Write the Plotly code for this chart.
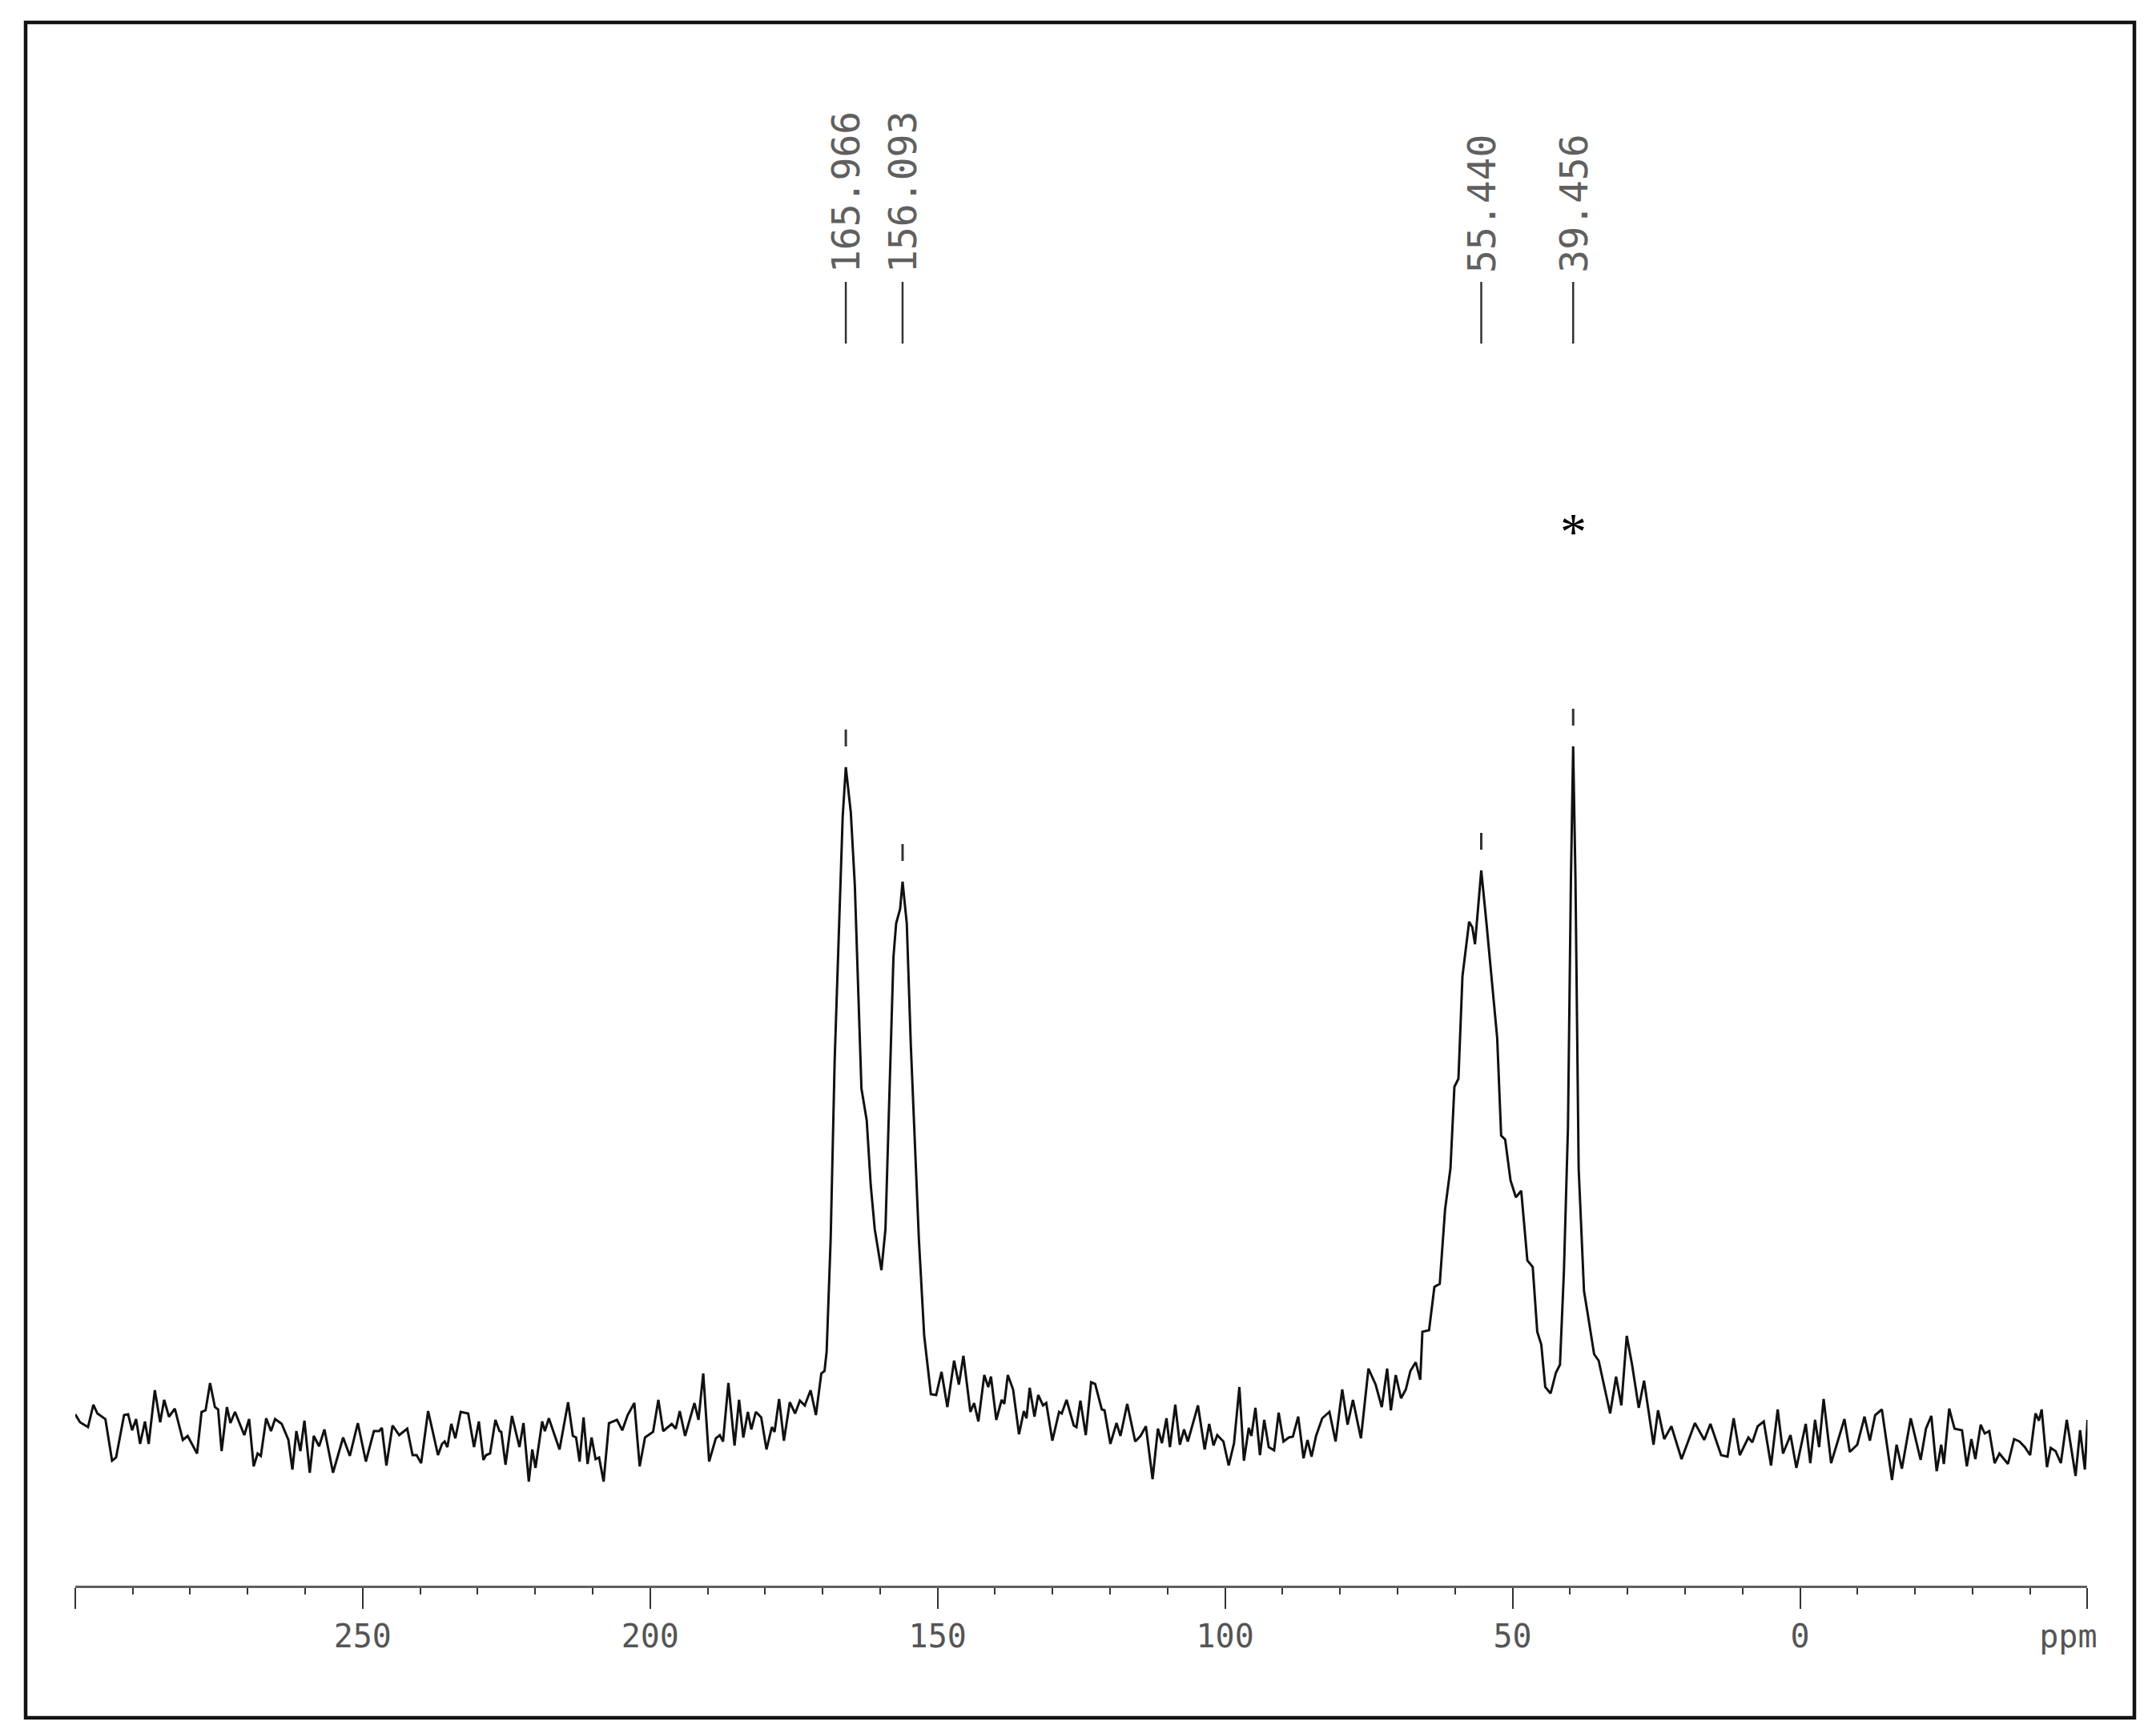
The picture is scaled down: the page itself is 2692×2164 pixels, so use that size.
import plotly.graph_objects as go

# ---------------- data ----------------
shift_ppm = [
    300.0, 299.16, 297.77, 296.84, 296.14, 294.75, 293.59, 292.89, 291.5, 290.8,
    290.1, 289.41, 288.71, 287.87, 287.22, 286.15, 285.22, 284.53, 283.69, 282.67,
    281.28, 280.44, 278.81, 278.02, 277.32, 276.54, 275.7, 275.14, 274.54, 273.61,
    273.0, 272.21, 270.59, 269.75, 268.96, 268.27, 267.71, 266.78, 265.94, 265.24,
    264.08, 262.92, 262.22, 261.53, 260.83, 260.13, 259.2, 258.5, 257.58, 256.65,
    255.16, 253.4, 252.23, 250.84, 249.44, 248.05, 247.13, 246.66, 245.87, 244.8,
    243.64, 242.25, 241.32,
    240.62, 239.83, 238.62, 237.83, 236.9, 236.2, 235.74, 235.27, 234.58, 233.88,
    232.95, 231.65, 230.63, 229.79, 229.0, 228.54, 227.84, 226.91, 226.21, 225.89,
    225.15, 224.03, 222.73, 222.03, 221.1, 220.5, 219.94, 218.78, 218.31, 217.62,
    215.76, 214.27, 213.44, 212.88, 212.27, 211.58, 210.88, 210.18, 209.49, 208.88,
    208.09, 207.16, 205.77, 204.84, 203.91, 202.75, 201.82, 200.89, 199.49, 198.57,
    197.73, 196.24, 195.54, 194.85, 193.92, 192.29, 191.59, 190.76, 189.74, 188.58,
    187.88, 187.32, 186.39, 185.32, 184.53, 183.79, 183.0,
    182.4, 181.61, 180.68, 179.76, 178.83, 178.36, 177.57, 176.73, 175.71, 174.78,
    173.95, 173.11, 172.09, 171.16, 170.23, 169.67, 169.3,
    168.6, 167.9, 167.2, 166.51, 165.966, 165.1, 164.4, 163.72, 163.25, 162.33,
    161.63, 160.93, 159.77, 159.07, 158.38, 157.68, 157.21, 156.52, 156.093, 155.36,
    154.66, 153.96, 153.26, 152.33, 151.17,
    150.25, 149.32, 148.3, 147.13, 146.3, 145.51, 144.3, 143.65, 142.91, 141.88,
    141.19, 140.72, 139.79, 138.86, 138.4, 137.79, 136.87, 135.84, 135.0, 134.54,
    133.98, 133.15, 132.5, 131.66, 131.1, 130.04, 128.87, 128.41, 127.57, 126.32,
    125.85, 125.16, 124.23, 123.3, 122.6, 121.44, 120.97, 119.95, 118.88, 118.19,
    117.02, 115.63, 114.7, 113.77, 112.61, 111.68, 110.98, 110.19, 109.59, 108.66,
    107.87, 107.13, 106.48, 104.71, 103.55, 102.76, 102.01, 101.36, 100.29, 99.37,
    98.44, 97.51, 96.72, 95.88, 95.42, 94.72, 93.93, 93.19, 92.4, 91.47,
    90.68, 89.84, 88.91, 88.21, 87.28, 86.35, 85.66, 84.96, 84.17, 83.1,
    81.85, 80.78, 79.62, 78.69, 77.76, 76.37, 75.06, 73.81, 72.74, 71.81,
    71.16, 70.32, 69.39, 68.56, 67.77, 66.84, 66.05, 65.68, 64.52, 63.59,
    62.66, 61.73, 60.8, 60.11, 59.41, 58.71, 57.55, 56.99, 56.53, 55.44,
    54.53, 53.6, 52.67, 51.98, 51.28, 50.35, 49.42, 48.49, 47.42, 46.49,
    45.7, 45.0, 44.31, 43.38, 42.45, 41.75, 41.06, 40.36, 39.85, 39.456,
    39.05, 38.5, 37.57, 36.87, 35.81, 35.02, 34.23, 33.02, 31.99, 31.07,
    30.14, 29.21, 28.05, 27.12, 25.48, 24.69, 23.62, 22.37, 20.6, 18.28,
    16.65, 15.58, 13.72, 12.61, 11.54, 10.47, 8.98, 8.29, 7.36,
    6.3, 5.04, 3.88, 2.95, 1.65, 0.63, -1.0, -1.79, -2.62, -3.32,
    -4.11, -5.41, -6.8, -7.73, -8.66, -9.96, -11.22, -12.15, -13.08, -14.24,
    -14.94, -16.0, -16.8, -17.72, -19.26, -20.98, -21.91, -22.84, -23.77, -24.56,
    -25.02, -25.95, -26.88, -28.18, -29.02, -29.81, -30.5, -31.43, -32.13, -32.92,
    -33.85, -34.69, -36.17, -37.24, -38.17, -39.1, -40.03, -40.96, -41.56, -42.03,
    -42.96, -43.61, -44.45, -45.37, -46.4, -47.93, -48.72, -49.55, -50.0,
]

intensity = [
    34, 24, 18, 46, 35, 28, -24, -20, 33, 34,
    14, 28, -3, 25, -3, 64, 24, 52, 31, 41,
    2, 7, -15, 37, 39, 73, 43, 40, -12, 43,
    23, 37, 8, 28, -31, -15, -18, 29, 13, 28,
    22, 2, -35, 13, -12, 26, -39, 7, -6, 15,
    -39, 5, -18, 23, -25, 13, 13, 17, -30, 20,
    8, 16, -17,
    -17, -27, 38, 13, -17, -3, 0, -7, 22, 4,
    37, 35, -7, 25, -23, -17, -15, 27, 13, 12,
    -29, 32, -7, 23, -50, -10, -33, 25, 13, 29,
    -10, 49, 7, 5, -25, 30, -28, 5, -22, -20,
    -50, 23, 27, 14, 33, 48, -31, 5, 12, 52,
    13, 22, 16, 38, 7, 48, 27, 85, -25, 4,
    8, 0, 73, -5, 52, 5, 37,
    15, 37, 30, -10, 18, 12, 53, 1, 49, 35,
    51, 45, 64, 33, 85, 88, 112,
    253, 477, 635, 780, 842, 786, 695, 556, 441, 401,
    320, 265, 214, 265, 435, 605, 647, 665, 699, 647,
    495, 374, 253, 132, 59,
    58, 87, 43, 101, 71, 107, 37, 48, 25, 83,
    68, 81, 27, 52, 47, 83, 65, 9, 38, 29,
    67, 31, 58, 45, 48, 1, 37, 35, 52, 20,
    18, 51, 8, 74, 72, 40, 39, -3, 23, 7,
    47, 0, 7, 19, -47, 16, -2, 29, -7, 46,
    -4, 15, 0, 45, -10, 22, -5, 8, 0, -30,
    -2, 68, -24, 17, 7, 42, -17, 27, -7, -11,
    36, 0, 5, 6, 31, -21, 2, -19, 7, 29,
    37, 0, 65, 21, 52, 4, 91, 71, 43, 91,
    39, 83, 54, 65, 88, 99, 77, 137, 139, 193,
    197, 290, 341, 443, 453, 581, 649, 642, 621, 713,
    647, 576, 504, 382, 377, 326, 305, 313, 226, 218,
    137, 121, 68, 60, 86, 96, 213, 392, 700, 868,
    700, 341, 188, 157, 109, 101, 76, 35, 81, 45,
    132, 96, 42, 76, -4, 39, 3, 19, -22, 23,
    2, 22, -17, -19, 29, -17, 5, -1, 19,
    25, -30, 40, -15, 8, -33, 22, -27, 27, -7,
    53, -27, 7, 28, -13, -4, 31, 1, 33, 40,
    5, -48, -4, -34, 29, -23, 16, 32, -37, -4,
    -28, 41, 16, 14, -31, 3, -22, 21, 10, 13,
    -27, -15, -28, 3, 0, -7, -17, 35, 26, 40,
    -32, -8, -12, -27, 27, -43, 14, -35, 27,
]

peak_ppm = [165.966, 156.093, 55.440, 39.456]
peak_labels = ["165.966", "156.093", "55.440", "39.456"]
solvent_ppm = 39.456

major_ticks = [300, 250, 200, 150, 100, 50, 0, -50]
major_text = ["", "250", "200", "150", "100", "50", "0", "ppm\u00a0\u00a0"]
minor_ticks = [v for v in range(300, -51, -10) if v % 50 != 0]

# ---------------- styling constants ----------------
LABEL_BASE = 1457      # bottom of the rotated peak labels (data units)
LABEL_LINE = (1371, 1448)
STAR_Y = 1137

fig = go.Figure()
fig.add_trace(go.Scatter(
    x=shift_ppm, y=intensity, mode="lines",
    line=dict(color="#111111", width=3),
    hoverinfo="skip", showlegend=False,
))

shapes = []
annotations = []
for p, lab in zip(peak_ppm, peak_labels):
    top = max(v for x, v in zip(shift_ppm, intensity) if abs(x - p) < 0.8)
    shapes.append(dict(type="line", xref="x", yref="y", x0=p, x1=p,
                       y0=top + 26, y1=top + 47,
                       line=dict(color="#333333", width=3)))
    shapes.append(dict(type="line", xref="x", yref="y", x0=p, x1=p,
                       y0=LABEL_LINE[0], y1=LABEL_LINE[1],
                       line=dict(color="#333333", width=2.5)))
    annotations.append(dict(x=p, y=LABEL_BASE, xref="x", yref="y", text=lab,
                            textangle=-90, showarrow=False,
                            xanchor="center", yanchor="bottom",
                            font=dict(family="DejaVu Sans Mono", size=48, color="#606060")))

annotations.append(dict(x=solvent_ppm, y=STAR_Y, xref="x", yref="y", text="*",
                        showarrow=False, xanchor="center", yanchor="middle",
                        font=dict(family="Liberation Serif", size=66, color="#000000")))

# outer frame
shapes.append(dict(type="rect", xref="paper", yref="paper", x0=0, x1=1, y0=0, y1=1,
                   line=dict(color="#111111", width=4.5)))

FIG_W, FIG_H = 2728, 2148
ML, MR, MT, MB = 24, 20, 20, 11
PW = FIG_W - ML - MR
PH = FIG_H - MT - MB

fig.update_layout(
    width=FIG_W, height=FIG_H, autosize=False,
    margin=dict(l=ML, r=MR, t=MT, b=MB),
    paper_bgcolor="white", plot_bgcolor="white",
    shapes=shapes, annotations=annotations,
    showlegend=False,
    xaxis=dict(
        domain=[63.1 / PW, 2624.3 / PW],
        range=[300, -50], autorange=False,
        showgrid=False, zeroline=False,
        showline=True, linecolor="#5f5f5f", linewidth=3,
        ticks="outside", ticklen=26, tickwidth=2, tickcolor="#333333",
        tickmode="array", tickvals=major_ticks, ticktext=major_text,
        tickfont=dict(family="DejaVu Sans Mono", size=40, color="#555555"),
        minor=dict(tickmode="array", tickvals=minor_ticks, ticks="outside",
                   ticklen=8, tickwidth=2, tickcolor="#333333", showgrid=False),
        fixedrange=True,
    ),
    yaxis=dict(
        domain=[165 / PH, 1],
        range=[-180, 1772], autorange=False,
        visible=False, fixedrange=True,
    ),
)

fig.write_html("out.html", config={"responsive": False, "displayModeBar": False})
